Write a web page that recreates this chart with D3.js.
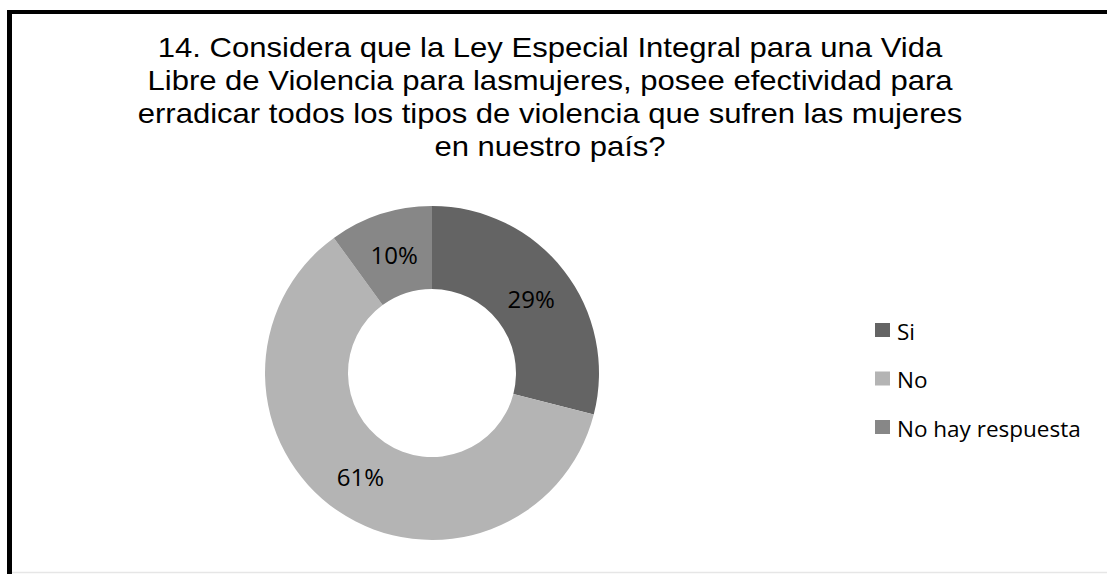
<!DOCTYPE html>
<html>
<head>
<meta charset="utf-8">
<script src="https://cdn.jsdelivr.net/npm/d3@7"></script>
<style>
  body { margin: 0; background: #fff; }
  svg { display: block; }
</style>
</head>
<body>
<svg id="chart" width="1107" height="574"></svg>
<script>
var categories = ["Si", "No", "No hay respuesta"];
var values = [29, 61, 10];
var colours = ["#646464", "#b4b4b4", "#878787"];
var titleLines = [
  "14. Considera que la Ley Especial Integral para una Vida",
  "Libre de Violencia para lasmujeres, posee efectividad para",
  "erradicar todos los tipos de violencia que sufren las mujeres",
  "en nuestro país?"
];

var svg = d3.select("#chart");

// frame (bottom edge is cut off in the picture)
svg.append("rect")
    .attr("x", 0).attr("y", 0).attr("width", 1107).attr("height", 574)
    .attr("fill", "#fff");
svg.append("line")
    .attr("x1", 9.5).attr("y1", 12).attr("x2", 9.5).attr("y2", 574)
    .attr("stroke", "#000").attr("stroke-width", 5);
svg.append("line")
    .attr("x1", 7).attr("y1", 12).attr("x2", 1107).attr("y2", 12)
    .attr("stroke", "#000").attr("stroke-width", 4);
svg.append("line")
    .attr("x1", 12).attr("y1", 572.5).attr("x2", 1107).attr("y2", 572.5)
    .attr("stroke", "#e6e6e6").attr("stroke-width", 1.5);

// title, centred on the whole chart; the original text is a bit stretched sideways
var titleG = svg.append("g").attr("transform", "translate(550,0) scale(1.15,1)");
titleG.selectAll("titleLines")
    .data(titleLines)
    .enter()
    .append("text")
    .attr("x", 0)
    .attr("y", function(d,i){ return 57 + i*33 })
    .attr("text-anchor", "middle")
    .style("font-family", "'Liberation Sans', Arial, sans-serif")
    .style("font-size", "27px")
    .style("fill", "#000")
    .text(function(d){ return d });

var color = d3.scaleOrdinal()
    .domain(categories)
    .range(colours);

var cx = 432, cy = 373, outerR = 167, innerR = 84;

var pie = d3.pie().sort(null).value(function(d){ return d.value });
var arc = d3.arc().innerRadius(innerR).outerRadius(outerR);

var data = categories.map(function(c, i){ return { name: c, value: values[i] } });
var total = d3.sum(values);

var g = svg.append("g").attr("transform", "translate(" + cx + "," + cy + ")");

g.selectAll("slices")
    .data(pie(data))
    .enter()
    .append("path")
    .attr("d", arc)
    .style("fill", function(d){ return color(d.data.name) });

// slice labels
var labelOffsets = { "Si": [0, 2], "No": [-1, 0], "No hay respuesta": [1, 1] };
g.selectAll("sliceLabels")
    .data(pie(data))
    .enter()
    .append("text")
    .attr("x", function(d){ return arc.centroid(d)[0] + labelOffsets[d.data.name][0] })
    .attr("y", function(d){ return arc.centroid(d)[1] + labelOffsets[d.data.name][1] })
    .attr("text-anchor", "middle")
    .attr("dominant-baseline", "central")
    .style("font-family", "'Open Sans', Carlito, Calibri, sans-serif")
    .style("font-size", "24px")
    .style("fill", "#000")
    .text(function(d){ return Math.round(d.data.value / total * 100) + "%" });

// legend
svg.selectAll("legendSquares")
    .data(categories)
    .enter()
    .append("rect")
    .attr("x", 875)
    .attr("y", function(d,i){ return 323 + i*48.5 })
    .attr("width", 15)
    .attr("height", 14)
    .style("fill", function(d){ return color(d) });

svg.selectAll("legendLabels")
    .data(categories)
    .enter()
    .append("text")
    .attr("x", 897)
    .attr("y", function(d,i){ return 331 + i*48.5 })
    .attr("dominant-baseline", "central")
    .style("font-family", "'Open Sans', Carlito, Calibri, sans-serif")
    .style("font-size", "22.5px")
    .style("fill", "#000")
    .text(function(d){ return d });
</script>
</body>
</html>
